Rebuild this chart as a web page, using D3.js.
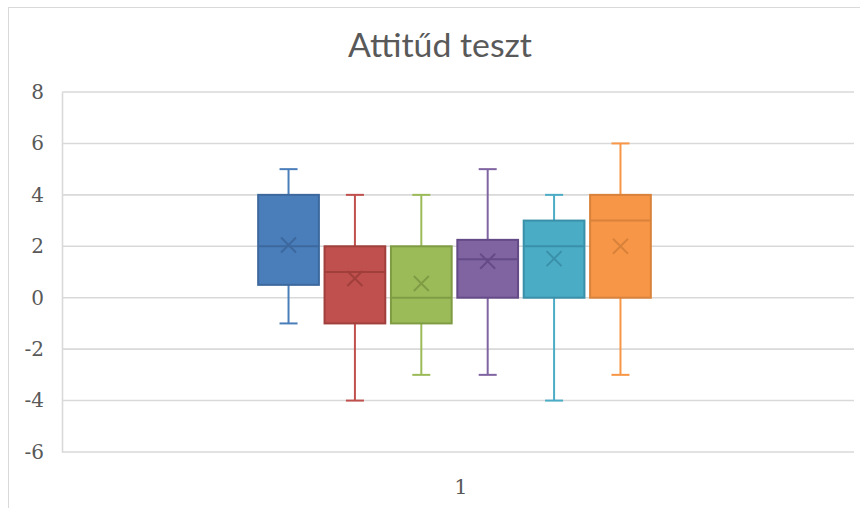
<!DOCTYPE html>
<html>
<head>
<meta charset="utf-8">
<script src="https://cdn.jsdelivr.net/npm/d3@7"></script>
<style>
  html, body { margin: 0; padding: 0; background: #fff; }
  svg { display: block; }
</style>
</head>
<body>
<svg id="chart" width="860" height="508"></svg>
<script>
const title = "Attitűd teszt";
const categories = ["1"];
const seriesNames = ["Sorozat1", "Sorozat2", "Sorozat3", "Sorozat4", "Sorozat5", "Sorozat6"];
const whiskerLow  = [-1, -4, -3, -3, -4, -3];
const q1Values    = [0.5, -1, -1, 0, 0, 0];
const medians     = [2, 1, 0, 1.5, 2, 3];
const q3Values    = [4, 2, 2, 2.25, 3, 4];
const whiskerHigh = [5, 4, 4, 5, 4, 6];
const means       = [2.05, 0.75, 0.55, 1.42, 1.52, 2.0];
const yTicks = [-6, -4, -2, 0, 2, 4, 6, 8];
const fillColors   = ["#4a7ebb", "#c0504d", "#9bbb59", "#8064a2", "#4bacc6", "#f79646"];
const strokeColors = ["#3c689e", "#a03f3c", "#7f9c45", "#654a88", "#3a90a8", "#d8823b"];

const numFont = "'DejaVu Serif', 'Liberation Serif', serif";

const svg = d3.select("#chart");

// outer border (only top & left visible)
svg.append("rect")
  .attr("x", 8.5).attr("y", 7.5).attr("width", 1000).attr("height", 1000)
  .attr("fill", "none").attr("stroke", "#d9d9d9").attr("stroke-width", 1);

const plotLeft = 62, plotRight = 854, plotTop = 92, plotBottom = 452;

const y = d3.scaleLinear().domain([-6, 8]).range([plotBottom, plotTop]);
const x0 = d3.scaleBand().domain(categories).range([plotLeft, plotRight]).paddingInner(0).paddingOuter(0.495);

// title
svg.append("text")
  .attr("x", 440).attr("y", 57)
  .attr("text-anchor", "middle")
  .style("font-family", "Lato, 'Open Sans', sans-serif")
  .style("font-size", "32px")
  .attr("fill", "#595959")
  .attr("textLength", 184)
  .attr("lengthAdjust", "spacingAndGlyphs")
  .text(title);

// gridlines
svg.append("g")
  .selectAll("line")
  .data(yTicks)
  .join("line")
  .attr("x1", plotLeft).attr("x2", plotRight)
  .attr("y1", d => y(d)).attr("y2", d => y(d))
  .attr("stroke", "#d9d9d9").attr("stroke-width", 1.6);

// y axis
const yAxis = d3.axisLeft(y).tickValues(yTicks).tickSize(0).tickPadding(18)
  .tickFormat(d => String(d).replace("−", "-"));
const gy = svg.append("g").attr("transform", `translate(${plotLeft},0)`)
  .call(yAxis);
gy.select(".domain").attr("stroke", "#d9d9d9").attr("stroke-width", 1.6);
gy.selectAll("text")
  .style("font-family", numFont)
  .style("font-size", "20px")
  .attr("fill", "#595959");

// x axis category label
svg.append("g")
  .selectAll("text")
  .data(categories)
  .join("text")
  .attr("x", d => x0(d) + x0.bandwidth() / 2 + 3)
  .attr("y", 494)
  .attr("text-anchor", "middle")
  .style("font-family", numFont)
  .style("font-size", "21px")
  .attr("fill", "#595959")
  .text(d => d);

// inner band scale for series
const groupStart = x0(categories[0]) - 3.5;
const x1 = d3.scaleBand().domain(seriesNames)
  .range([groupStart, groupStart + x0.bandwidth()])
  .paddingInner(0.085).paddingOuter(0.04);

const data = seriesNames.map((name, i) => ({
  name, lo: whiskerLow[i], q1: q1Values[i], med: medians[i], q3: q3Values[i], hi: whiskerHigh[i],
  mean: means[i], fill: fillColors[i], stroke: strokeColors[i]
}));

const boxes = svg.append("g").selectAll("g").data(data).join("g");
const cx = d => x1(d.name) + x1.bandwidth() / 2;
const capHalf = 9;

// whiskers
boxes.append("line")
  .attr("x1", cx).attr("x2", cx)
  .attr("y1", d => y(d.hi)).attr("y2", d => y(d.q3))
  .attr("stroke", d => d.fill).attr("stroke-width", 2);
boxes.append("line")
  .attr("x1", cx).attr("x2", cx)
  .attr("y1", d => y(d.q1)).attr("y2", d => y(d.lo))
  .attr("stroke", d => d.fill).attr("stroke-width", 2);
boxes.append("line")
  .attr("x1", d => cx(d) - capHalf).attr("x2", d => cx(d) + capHalf)
  .attr("y1", d => y(d.hi)).attr("y2", d => y(d.hi))
  .attr("stroke", d => d.fill).attr("stroke-width", 2);
boxes.append("line")
  .attr("x1", d => cx(d) - capHalf).attr("x2", d => cx(d) + capHalf)
  .attr("y1", d => y(d.lo)).attr("y2", d => y(d.lo))
  .attr("stroke", d => d.fill).attr("stroke-width", 2);

// boxes
boxes.append("rect")
  .attr("x", d => x1(d.name))
  .attr("width", x1.bandwidth())
  .attr("y", d => y(d.q3))
  .attr("height", d => y(d.q1) - y(d.q3))
  .attr("fill", d => d.fill)
  .attr("stroke", d => d.stroke).attr("stroke-width", 2);

// median
boxes.append("line")
  .attr("x1", d => x1(d.name)).attr("x2", d => x1(d.name) + x1.bandwidth())
  .attr("y1", d => y(d.med)).attr("y2", d => y(d.med))
  .attr("stroke", d => d.stroke).attr("stroke-width", 2);

// mean markers (X)
const mh = 7.5;
boxes.append("path")
  .attr("d", d => {
    const px = cx(d), py = y(d.mean);
    return `M${px - mh},${py - mh}L${px + mh},${py + mh}M${px - mh},${py + mh}L${px + mh},${py - mh}`;
  })
  .attr("stroke", d => d.stroke).attr("stroke-width", 2).attr("fill", "none");
</script>
</body>
</html>
